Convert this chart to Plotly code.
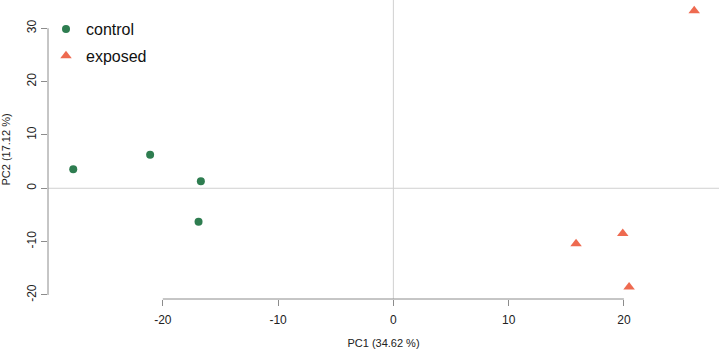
import plotly.graph_objects as go

# data
control_pc1 = [-27.77, -21.1, -16.7, -16.9]
control_pc2 = [3.56, 6.3, 1.3, -6.26]
exposed_pc1 = [26.1, 15.85, 19.9, 20.45]
exposed_pc2 = [33.3, -10.4, -8.5, -18.5]
x_ticks = [-20, -10, 0, 10, 20]
y_ticks = [-20, -10, 0, 10, 20, 30]
x_title = "PC1 (34.62 %)"
y_title = "PC2 (17.12 %)"

GREEN = "#2E7D50"
ORANGE = "#EE6A50"
AX = "#8c8c8c"
FONT = "Liberation Sans, Arial, sans-serif"

fig = go.Figure()
fig.add_trace(go.Scatter(x=control_pc1, y=control_pc2, mode="markers", name="control",
                         legendgroup="a",
                         marker=dict(symbol="circle", size=8, color=GREEN)))
fig.add_trace(go.Scatter(x=exposed_pc1, y=exposed_pc2, mode="markers", name="exposed",
                         legendgroup="b",
                         marker=dict(symbol="triangle-up", size=10, color=ORANGE)))

# reference lines (abline at 0)
fig.add_shape(type="line", xref="x", yref="paper", x0=0, x1=0, y0=0, y1=1,
              line=dict(color="#d0d0d0", width=1), layer="below")
fig.add_shape(type="line", xref="paper", yref="y", x0=0, x1=1, y0=0, y1=0,
              line=dict(color="#d0d0d0", width=1), layer="below")
# R-style axis lines spanning the tick range
fig.add_shape(type="line", xref="x", yref="paper", x0=x_ticks[0], x1=x_ticks[-1], y0=0, y1=0,
              line=dict(color=AX, width=1))
fig.add_shape(type="line", xref="paper", yref="y", x0=0, x1=0, y0=y_ticks[0], y1=y_ticks[-1],
              line=dict(color=AX, width=1))

fig.update_layout(
    width=719, height=350,
    margin=dict(l=48, r=0, t=0, b=51, autoexpand=False),
    plot_bgcolor="white", paper_bgcolor="white",
    font=dict(family=FONT, size=12, color="#222222"),
    showlegend=True,
    legend=dict(x=-2 / 671, y=1 - 12 / 299, xanchor="left", yanchor="top",
                font=dict(size=16, color="#111111"), bgcolor="rgba(0,0,0,0)",
                traceorder="grouped", tracegroupgap=3, itemwidth=30),
)
fig.update_xaxes(range=[-29.96, 28.25], showgrid=False, zeroline=False, showline=False,
                 automargin=False,
                 tickmode="array", tickvals=x_ticks, ticktext=[str(v) for v in x_ticks],
                 ticks="outside", ticklen=6, tickcolor=AX, tickfont=dict(size=12),
                 ticklabelstandoff=4,
                 title=dict(text=x_title, font=dict(size=11), standoff=12))
fig.update_yaxes(range=[-20.76, 35.3], showgrid=False, zeroline=False, showline=False,
                 automargin=False,
                 tickmode="array", tickvals=y_ticks, ticktext=[str(v) for v in y_ticks],
                 ticks="outside", ticklen=6, tickcolor=AX, tickfont=dict(size=12), tickangle=-90,
                 title=dict(text=y_title, font=dict(size=11), standoff=12))

fig.write_html("out.html", config={"displayModeBar": False},
               post_script="document.body.style.margin='0';")
